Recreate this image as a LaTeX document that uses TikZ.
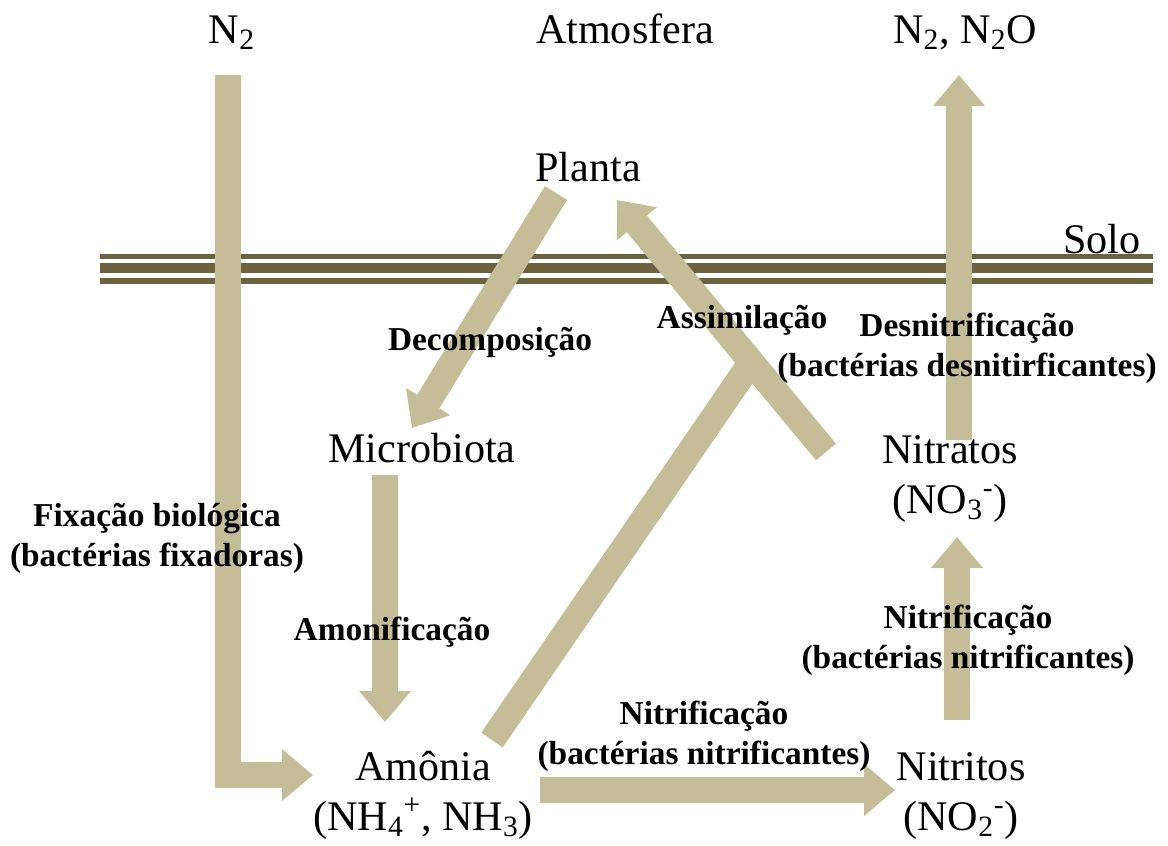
\documentclass[tikz,border=0pt]{standalone}
\usepackage{fontspec}
\setmainfont{Liberation Serif}
\usetikzlibrary{arrows.meta,positioning,calc}

\definecolor{flowtan}{HTML}{C4BD97}
\definecolor{soilbrown}{HTML}{6B6340}

\tikzset{
    flow/.style={draw=flowtan, line width=0.52cm, line join=miter,
        -{Triangle[width=1cm, length=0.62cm]}},
    branch/.style={draw=flowtan, line width=0.52cm},
    soil/.style={draw=soilbrown},
    pool/.style={font=\fontsize{24}{28}\selectfont, align=center, inner sep=0pt, anchor=base},
    process/.style={font=\bfseries\fontsize{19}{22.5}\selectfont, align=center, inner sep=0pt, anchor=base}
}

\begin{document}
\begin{tikzpicture}[x=0.02cm, y=-0.02cm]
    \useasboundingbox (0,0) rectangle (1168,845);

    % Soil surface
    \draw[soil, line width=0.1cm] (100,256) -- (1153,256);
    \draw[soil, line width=0.2cm] (100,268) -- (1153,268);
    \draw[soil, line width=0.12cm] (100,281) -- (1153,281);

    % Arrow ends
    \coordinate (fixTop) at (228,75);
    \coordinate (fixTip) at (313,775);
    \coordinate (decompTop) at (556,193);
    \coordinate (decompTip) at (412,428);
    \coordinate (amonifTop) at (385,475);
    \coordinate (amonifTip) at (385,722);
    \coordinate (nitrifAStart) at (540,790);
    \coordinate (nitrifATip) at (895,790);
    \coordinate (nitrifBStart) at (957,720);
    \coordinate (nitrifBTip) at (957,537);
    \coordinate (desnitStart) at (959,440);
    \coordinate (desnitTip) at (959,75);
    \coordinate (assimStart) at (826,452);
    \coordinate (assimTip) at (617,200);
    \coordinate (amoniaOut) at (492,740);
    \coordinate (junction) at ($(assimStart)!0.357!(assimTip)$);

    % Flows
    \draw[flow] (fixTop) |- (fixTip);
    \draw[flow] (decompTop) -- (decompTip);
    \draw[flow] (amonifTop) -- (amonifTip);
    \draw[flow] (nitrifAStart) -- (nitrifATip);
    \draw[flow] (nitrifBStart) -- (nitrifBTip);
    \draw[flow] (desnitStart) -- (desnitTip);
    \draw[branch] (amoniaOut) -- (junction);
    \draw[flow] (assimStart) -- (assimTip);

    % Pools
    \node[pool] (n2) at (232,43) {N\textsubscript{2}};
    \node[pool] (atmos) at (625,43) {Atmosfera};
    \node[pool] (n2o) at (965,43) {N\textsubscript{2}, N\textsubscript{2}O};
    \node[pool] (planta) at (588,181) {Planta};
    \node[pool, anchor=base east] (solo) at (1141,253) {Solo};
    \node[pool] (microbiota) at (422,462) {Microbiota};
    \node[pool] (nitratos) at (950,513) {Nitratos\\(NO\textsubscript{3}\textsuperscript{-})};
    \node[pool] (amonia) at (423,830) {Amônia\\(NH\textsubscript{4}\textsuperscript{+}, NH\textsubscript{3})};
    \node[pool] (nitritos) at (961,830) {Nitritos\\(NO\textsubscript{2}\textsuperscript{-})};

    % Processes
    \node[process] (decomp) at (490,350) {Decomposição};
    \node[process] (assim) at (742,328) {Assimilação};
    \node[process] (desnit) at (967,376) {Desnitrificação\\(bactérias desnitirficantes)};
    \node[process] (fixacao) at (157,566) {Fixação biológica\\(bactérias fixadoras)};
    \node[process] (amonif) at (392,640) {Amonificação};
    \node[process] (nitrifA) at (968,668) {Nitrificação\\(bactérias nitrificantes)};
    \node[process] (nitrifB) at (704,764) {Nitrificação\\(bactérias nitrificantes)};
\end{tikzpicture}
\end{document}
